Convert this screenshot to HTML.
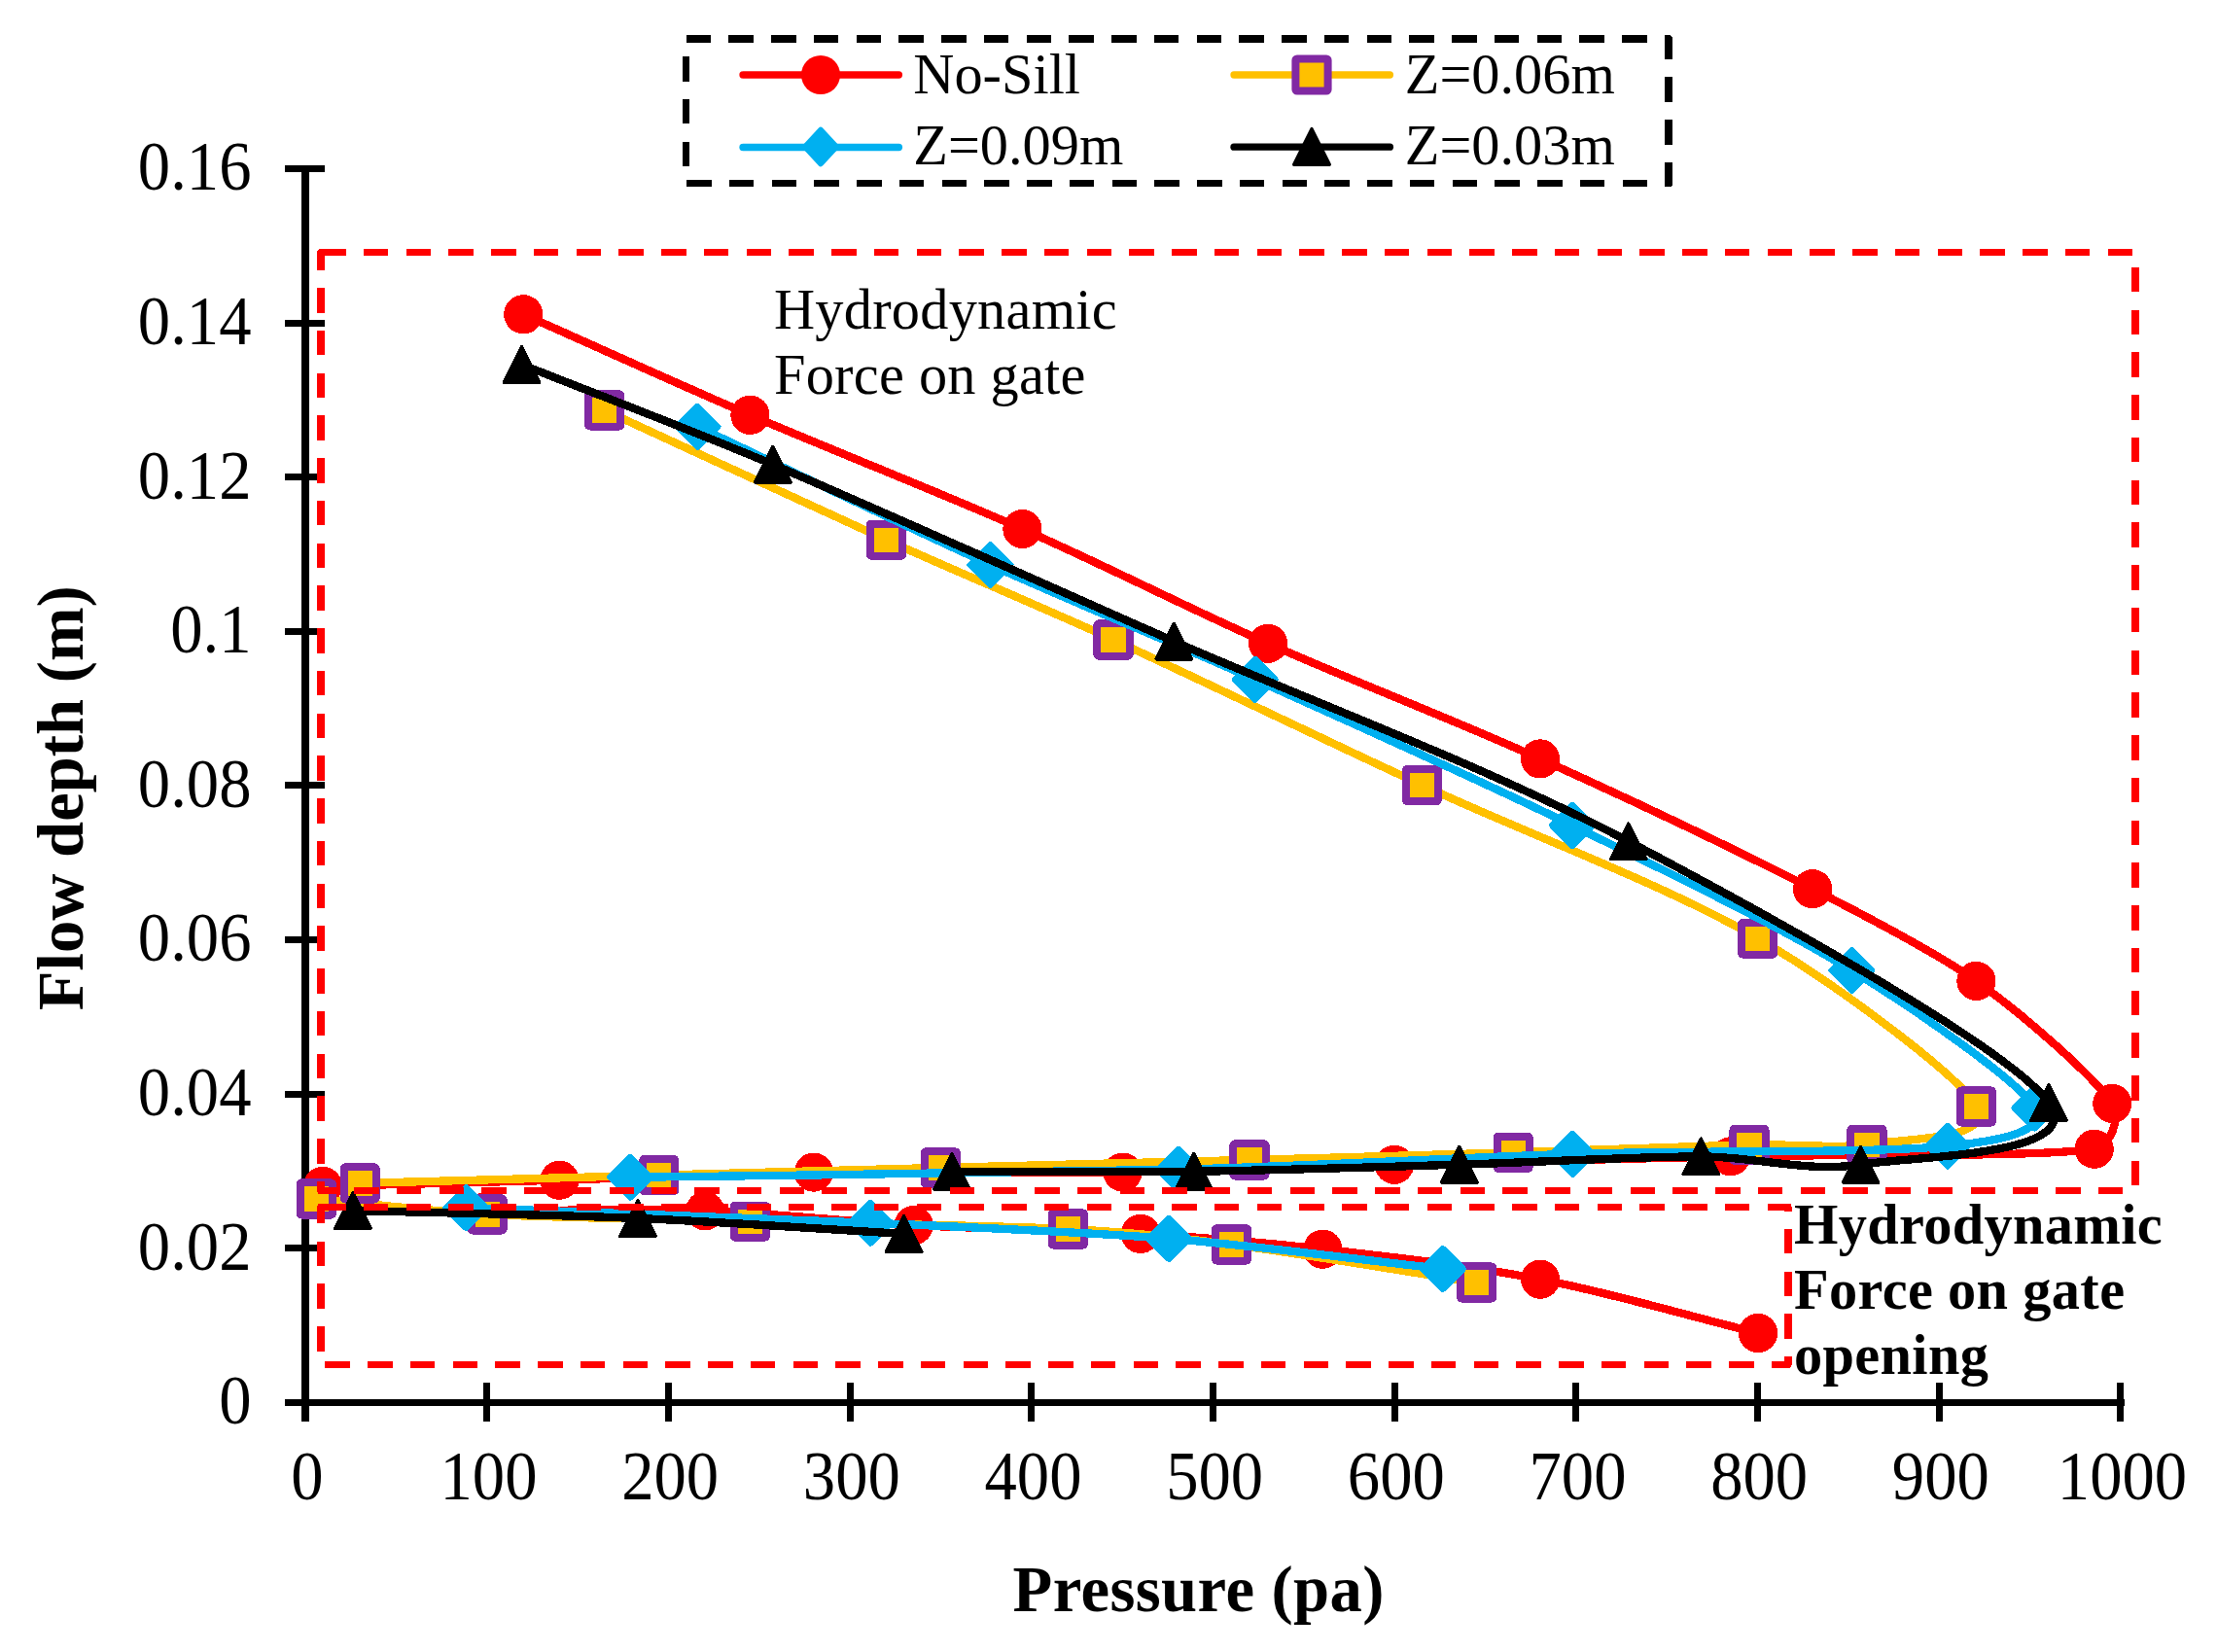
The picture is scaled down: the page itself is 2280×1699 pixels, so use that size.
<!DOCTYPE html>
<html><head><meta charset="utf-8"><title>Pressure vs flow depth</title>
<style>html,body{margin:0;padding:0;background:#fff}svg{display:block}text{font-family:"Liberation Serif",serif;fill:#000}</style></head><body>
<svg width="2280" height="1699" viewBox="0 0 2280 1699">
<rect width="2280" height="1699" fill="#fff"/>
<g fill="#000" shape-rendering="crispEdges">
<rect x="310" y="170" width="8" height="1292"/>
<rect x="293" y="1439" width="1891.5" height="7"/>
<rect x="497" y="1422" width="7" height="40"/>
<rect x="684" y="1422" width="7" height="40"/>
<rect x="871" y="1422" width="7" height="40"/>
<rect x="1057" y="1422" width="7" height="40"/>
<rect x="1244" y="1422" width="7" height="40"/>
<rect x="1431" y="1422" width="7" height="40"/>
<rect x="1617" y="1422" width="7" height="40"/>
<rect x="1804" y="1422" width="7" height="40"/>
<rect x="1991" y="1422" width="7" height="40"/>
<rect x="2177" y="1422" width="7" height="40"/>
<rect x="293" y="1280" width="41" height="7"/>
<rect x="293" y="1122" width="41" height="7"/>
<rect x="293" y="963" width="41" height="7"/>
<rect x="293" y="804" width="41" height="7"/>
<rect x="293" y="646" width="41" height="7"/>
<rect x="293" y="487" width="41" height="7"/>
<rect x="293" y="329" width="41" height="7"/>
<rect x="293" y="170" width="41" height="7"/>
</g>
<g font-size="66.67">
<text transform="translate(315.8,1542) scale(1,1.065)" text-anchor="middle">0</text>
<text transform="translate(502.47,1542) scale(1,1.065)" text-anchor="middle">100</text>
<text transform="translate(689.14,1542) scale(1,1.065)" text-anchor="middle">200</text>
<text transform="translate(875.81,1542) scale(1,1.065)" text-anchor="middle">300</text>
<text transform="translate(1062.48,1542) scale(1,1.065)" text-anchor="middle">400</text>
<text transform="translate(1249.15,1542) scale(1,1.065)" text-anchor="middle">500</text>
<text transform="translate(1435.82,1542) scale(1,1.065)" text-anchor="middle">600</text>
<text transform="translate(1622.49,1542) scale(1,1.065)" text-anchor="middle">700</text>
<text transform="translate(1809.16,1542) scale(1,1.065)" text-anchor="middle">800</text>
<text transform="translate(1995.83,1542) scale(1,1.065)" text-anchor="middle">900</text>
<text transform="translate(2182.5,1542) scale(1,1.065)" text-anchor="middle">1000</text>
<text transform="translate(258.5,1464.3) scale(1,1.065)" text-anchor="end">0</text>
<text transform="translate(258.5,1305.67) scale(1,1.065)" text-anchor="end">0.02</text>
<text transform="translate(258.5,1147.05) scale(1,1.065)" text-anchor="end">0.04</text>
<text transform="translate(258.5,988.42) scale(1,1.065)" text-anchor="end">0.06</text>
<text transform="translate(258.5,829.8) scale(1,1.065)" text-anchor="end">0.08</text>
<text transform="translate(258.5,671.17) scale(1,1.065)" text-anchor="end">0.1</text>
<text transform="translate(258.5,512.55) scale(1,1.065)" text-anchor="end">0.12</text>
<text transform="translate(258.5,353.93) scale(1,1.065)" text-anchor="end">0.14</text>
<text transform="translate(258.5,195.3) scale(1,1.065)" text-anchor="end">0.16</text>
</g>
<text x="1232.7" y="1657" font-size="66.67" font-weight="bold" text-anchor="middle" letter-spacing="0.4">Pressure (pa)</text>
<text transform="translate(85,820.8) rotate(-90)" font-size="66.67" font-weight="bold" text-anchor="middle">Flow depth (m)</text>
<g id="s-red" shape-rendering="crispEdges">
<path d="M538.3,323.3 C609.26,354.81 693.3,393.21 771.4,426.8 C856.92,463.58 962.62,504.83 1051.4,544 C1136.43,581.51 1219.16,624.09 1304.1,661.8 C1391.92,700.79 1491.55,738.78 1583.9,780.4 C1677.23,822.47 1789.35,876.12 1864.1,914.2 C1921.46,943.42 1992.99,980.68 2032.4,1008.9 C2083.43,1045.44 2152.22,1106.29 2172.3,1134.9 C2181.94,1148.64 2170.33,1179.4 2153.7,1181.7 C2088.28,1190.77 1899.75,1186.62 1779.8,1189.3 C1664.53,1191.88 1534.14,1195.19 1434,1197.8 C1340.86,1200.23 1247.76,1204.38 1154.6,1205.6 C1055.08,1206.9 933.43,1204.25 836.9,1205.6 C749.7,1206.82 651.43,1211.53 575.4,1213.7 C494.24,1216.01 410.17,1217.97 331.9,1220" fill="none" stroke="#FF0000" stroke-width="8.33" stroke-linecap="round" stroke-linejoin="round"/>
<path d="M501.5,1245.3 C576,1245.3 651.97,1242.83 725,1245.3 C796.7,1247.72 868.06,1256.33 939.7,1260.1 C1014.37,1264.03 1102.9,1264.8 1173,1268.9 C1235.55,1272.56 1298.05,1277.61 1360.3,1284.7 C1428.21,1292.43 1510.15,1301.45 1584.1,1315.7 C1658.72,1330.08 1733.37,1352.57 1808,1371" fill="none" stroke="#FF0000" stroke-width="8.33" stroke-linecap="round" stroke-linejoin="round"/>
<circle cx="538.3" cy="323.3" r="20.1" fill="#FF0000"/>
<circle cx="771.4" cy="426.8" r="20.1" fill="#FF0000"/>
<circle cx="1051.4" cy="544" r="20.1" fill="#FF0000"/>
<circle cx="1304.1" cy="661.8" r="20.1" fill="#FF0000"/>
<circle cx="1583.9" cy="780.4" r="20.1" fill="#FF0000"/>
<circle cx="1864.1" cy="914.2" r="20.1" fill="#FF0000"/>
<circle cx="2032.4" cy="1008.9" r="20.1" fill="#FF0000"/>
<circle cx="2172.3" cy="1134.9" r="20.1" fill="#FF0000"/>
<circle cx="2153.7" cy="1181.7" r="20.1" fill="#FF0000"/>
<circle cx="1779.8" cy="1189.3" r="20.1" fill="#FF0000"/>
<circle cx="1434" cy="1197.8" r="20.1" fill="#FF0000"/>
<circle cx="1154.6" cy="1205.6" r="20.1" fill="#FF0000"/>
<circle cx="836.9" cy="1205.6" r="20.1" fill="#FF0000"/>
<circle cx="575.4" cy="1213.7" r="20.1" fill="#FF0000"/>
<circle cx="331.9" cy="1220" r="20.1" fill="#FF0000"/>
<circle cx="501.5" cy="1245.3" r="20.1" fill="#FF0000"/>
<circle cx="725" cy="1245.3" r="20.1" fill="#FF0000"/>
<circle cx="939.7" cy="1260.1" r="20.1" fill="#FF0000"/>
<circle cx="1173" cy="1268.9" r="20.1" fill="#FF0000"/>
<circle cx="1360.3" cy="1284.7" r="20.1" fill="#FF0000"/>
<circle cx="1584.1" cy="1315.7" r="20.1" fill="#FF0000"/>
<circle cx="1808" cy="1371" r="20.1" fill="#FF0000"/>
</g>
<g id="s-yel" shape-rendering="crispEdges">
<path d="M621.7,421.9 C718.27,466.33 824.18,515.85 911.4,555.2 C988.95,590.19 1067.65,622.59 1145,658 C1233.16,698.36 1356.23,758.25 1462.3,807.4 C1572.77,858.58 1712.77,910 1807.8,965.1 C1889.56,1012.5 2016.43,1107.59 2032.5,1138 C2051.07,1173.14 1958.58,1170.69 1919.9,1177.2 C1894.04,1181.55 1839.29,1176.4 1799,1177.3 C1741.69,1178.58 1637.07,1182.84 1556.1,1185.3 C1477.21,1187.69 1375.37,1190.51 1285,1192.9 C1186.87,1195.5 1068.5,1198.28 967.3,1200.9 C870.8,1203.4 774.3,1206.01 677.8,1208.6 C578.27,1211.27 472.67,1214.13 370.1,1216.9" fill="none" stroke="#FFC000" stroke-width="8.33" stroke-linecap="round" stroke-linejoin="round"/>
<path d="M325.2,1233 C383.83,1238.3 442.31,1245.86 501.1,1248.9 C568.41,1252.38 681.3,1253.82 771.4,1256.1 C870.95,1258.62 1015.88,1260.03 1098.4,1264 C1154.62,1266.7 1210.69,1272.6 1266.5,1279.9 C1336.55,1289.07 1434.63,1305.97 1518.7,1319" fill="none" stroke="#FFC000" stroke-width="8.33" stroke-linecap="round" stroke-linejoin="round"/>
<rect x="605.1" y="405.3" width="33.2" height="33.2" rx="1.5" fill="#FFC000" stroke="#8129A3" stroke-width="8" stroke-linejoin="round"/>
<rect x="894.8" y="538.6" width="33.2" height="33.2" rx="1.5" fill="#FFC000" stroke="#8129A3" stroke-width="8" stroke-linejoin="round"/>
<rect x="1128.4" y="641.4" width="33.2" height="33.2" rx="1.5" fill="#FFC000" stroke="#8129A3" stroke-width="8" stroke-linejoin="round"/>
<rect x="1445.7" y="790.8" width="33.2" height="33.2" rx="1.5" fill="#FFC000" stroke="#8129A3" stroke-width="8" stroke-linejoin="round"/>
<rect x="1791.2" y="948.5" width="33.2" height="33.2" rx="1.5" fill="#FFC000" stroke="#8129A3" stroke-width="8" stroke-linejoin="round"/>
<rect x="2015.9" y="1121.4" width="33.2" height="33.2" rx="1.5" fill="#FFC000" stroke="#8129A3" stroke-width="8" stroke-linejoin="round"/>
<rect x="1903.3" y="1160.6" width="33.2" height="33.2" rx="1.5" fill="#FFC000" stroke="#8129A3" stroke-width="8" stroke-linejoin="round"/>
<rect x="1782.4" y="1160.7" width="33.2" height="33.2" rx="1.5" fill="#FFC000" stroke="#8129A3" stroke-width="8" stroke-linejoin="round"/>
<rect x="1539.5" y="1168.7" width="33.2" height="33.2" rx="1.5" fill="#FFC000" stroke="#8129A3" stroke-width="8" stroke-linejoin="round"/>
<rect x="1268.4" y="1176.3" width="33.2" height="33.2" rx="1.5" fill="#FFC000" stroke="#8129A3" stroke-width="8" stroke-linejoin="round"/>
<rect x="950.7" y="1184.3" width="33.2" height="33.2" rx="1.5" fill="#FFC000" stroke="#8129A3" stroke-width="8" stroke-linejoin="round"/>
<rect x="661.2" y="1192" width="33.2" height="33.2" rx="1.5" fill="#FFC000" stroke="#8129A3" stroke-width="8" stroke-linejoin="round"/>
<rect x="353.5" y="1200.3" width="33.2" height="33.2" rx="1.5" fill="#FFC000" stroke="#8129A3" stroke-width="8" stroke-linejoin="round"/>
<rect x="308.6" y="1216.4" width="33.2" height="33.2" rx="1.5" fill="#FFC000" stroke="#8129A3" stroke-width="8" stroke-linejoin="round"/>
<rect x="484.5" y="1232.3" width="33.2" height="33.2" rx="1.5" fill="#FFC000" stroke="#8129A3" stroke-width="8" stroke-linejoin="round"/>
<rect x="754.8" y="1239.5" width="33.2" height="33.2" rx="1.5" fill="#FFC000" stroke="#8129A3" stroke-width="8" stroke-linejoin="round"/>
<rect x="1081.8" y="1247.4" width="33.2" height="33.2" rx="1.5" fill="#FFC000" stroke="#8129A3" stroke-width="8" stroke-linejoin="round"/>
<rect x="1249.9" y="1263.3" width="33.2" height="33.2" rx="1.5" fill="#FFC000" stroke="#8129A3" stroke-width="8" stroke-linejoin="round"/>
<rect x="1502.1" y="1302.4" width="33.2" height="33.2" rx="1.5" fill="#FFC000" stroke="#8129A3" stroke-width="8" stroke-linejoin="round"/>
</g>
<g id="s-blu" shape-rendering="crispEdges">
<path d="M717.4,438.8 C817.77,486.13 922.95,537.47 1018.5,580.8 C1108.56,621.64 1200.45,658.36 1290.7,698.8 C1390.47,743.5 1514.82,799.12 1617.1,849 C1714.08,896.3 1829.26,952.21 1904.4,998.1 C1971.35,1038.99 2078.72,1113.97 2092.6,1139.4 C2108.23,1168.03 2035.45,1175.46 2003,1178.7 C1925.82,1186.4 1745.9,1182.9 1617.4,1186.8 C1506.99,1190.15 1347.06,1199.35 1211.8,1202.7 C1050.25,1206.7 836,1208.1 648.1,1210.8" fill="none" stroke="#00B0F0" stroke-width="8.33" stroke-linecap="round" stroke-linejoin="round"/>
<path d="M479.4,1242.2 C618,1247.37 774.75,1252.42 895.2,1257.7 C997.54,1262.19 1118.75,1267.2 1202.1,1273.9 C1296.27,1281.47 1393.66,1295.05 1483.8,1305" fill="none" stroke="#00B0F0" stroke-width="8.33" stroke-linecap="round" stroke-linejoin="round"/>
<polygon points="717.4,417.8 738.4,438.8 717.4,459.8 696.4,438.8" fill="#00B0F0" stroke="#00B0F0" stroke-width="6" stroke-linejoin="round"/>
<polygon points="1018.5,559.8 1039.5,580.8 1018.5,601.8 997.5,580.8" fill="#00B0F0" stroke="#00B0F0" stroke-width="6" stroke-linejoin="round"/>
<polygon points="1290.7,677.8 1311.7,698.8 1290.7,719.8 1269.7,698.8" fill="#00B0F0" stroke="#00B0F0" stroke-width="6" stroke-linejoin="round"/>
<polygon points="1617.1,828 1638.1,849 1617.1,870 1596.1,849" fill="#00B0F0" stroke="#00B0F0" stroke-width="6" stroke-linejoin="round"/>
<polygon points="1904.4,977.1 1925.4,998.1 1904.4,1019.1 1883.4,998.1" fill="#00B0F0" stroke="#00B0F0" stroke-width="6" stroke-linejoin="round"/>
<polygon points="2092.6,1118.4 2113.6,1139.4 2092.6,1160.4 2071.6,1139.4" fill="#00B0F0" stroke="#00B0F0" stroke-width="6" stroke-linejoin="round"/>
<polygon points="2003,1157.7 2024,1178.7 2003,1199.7 1982,1178.7" fill="#00B0F0" stroke="#00B0F0" stroke-width="6" stroke-linejoin="round"/>
<polygon points="1617.4,1165.8 1638.4,1186.8 1617.4,1207.8 1596.4,1186.8" fill="#00B0F0" stroke="#00B0F0" stroke-width="6" stroke-linejoin="round"/>
<polygon points="1211.8,1181.7 1232.8,1202.7 1211.8,1223.7 1190.8,1202.7" fill="#00B0F0" stroke="#00B0F0" stroke-width="6" stroke-linejoin="round"/>
<polygon points="648.1,1189.8 669.1,1210.8 648.1,1231.8 627.1,1210.8" fill="#00B0F0" stroke="#00B0F0" stroke-width="6" stroke-linejoin="round"/>
<polygon points="479.4,1221.2 500.4,1242.2 479.4,1263.2 458.4,1242.2" fill="#00B0F0" stroke="#00B0F0" stroke-width="6" stroke-linejoin="round"/>
<polygon points="895.2,1236.7 916.2,1257.7 895.2,1278.7 874.2,1257.7" fill="#00B0F0" stroke="#00B0F0" stroke-width="6" stroke-linejoin="round"/>
<polygon points="1202.1,1252.9 1223.1,1273.9 1202.1,1294.9 1181.1,1273.9" fill="#00B0F0" stroke="#00B0F0" stroke-width="6" stroke-linejoin="round"/>
<polygon points="1483.8,1284 1504.8,1305 1483.8,1326 1462.8,1305" fill="#00B0F0" stroke="#00B0F0" stroke-width="6" stroke-linejoin="round"/>
</g>
<g id="s-blk" shape-rendering="crispEdges">
<path d="M536.5,374.9 C602.14,401.03 709.42,441.51 794.7,477.7 C899.59,522.21 1069.82,599 1207.4,659.6 C1354.07,724.2 1524.8,786.25 1674.7,865.3 C1824.6,944.35 2067,1078.5 2106.8,1133.9 C2146.39,1189.01 1972.75,1188.5 1913.5,1197.7 C1859.38,1206.1 1804.17,1189.4 1749.4,1189.4 C1683.84,1189.4 1583.68,1195.25 1500.8,1197.7 C1413.85,1200.27 1314.65,1203.62 1227.7,1204.8 C1144.84,1205.93 1061.97,1204.8 979.1,1204.8" fill="none" stroke="#000000" stroke-width="8.33" stroke-linecap="round" stroke-linejoin="round"/>
<path d="M362.9,1245 C460.57,1247.67 561.47,1249.02 655.9,1253 C747.17,1256.85 838.3,1263.6 929.5,1268.9" fill="none" stroke="#000000" stroke-width="8.33" stroke-linecap="round" stroke-linejoin="round"/>
<polygon points="536.5,356.5 554.9,393.3 518.1,393.3" fill="#000000" stroke="#000000" stroke-width="3.2" stroke-linejoin="round"/>
<polygon points="794.7,459.3 813.1,496.1 776.3,496.1" fill="#000000" stroke="#000000" stroke-width="3.2" stroke-linejoin="round"/>
<polygon points="1207.4,641.2 1225.8,678 1189,678" fill="#000000" stroke="#000000" stroke-width="3.2" stroke-linejoin="round"/>
<polygon points="1674.7,846.9 1693.1,883.7 1656.3,883.7" fill="#000000" stroke="#000000" stroke-width="3.2" stroke-linejoin="round"/>
<polygon points="2106.8,1115.5 2125.2,1152.3 2088.4,1152.3" fill="#000000" stroke="#000000" stroke-width="3.2" stroke-linejoin="round"/>
<polygon points="1913.5,1179.3 1931.9,1216.1 1895.1,1216.1" fill="#000000" stroke="#000000" stroke-width="3.2" stroke-linejoin="round"/>
<polygon points="1749.4,1171 1767.8,1207.8 1731,1207.8" fill="#000000" stroke="#000000" stroke-width="3.2" stroke-linejoin="round"/>
<polygon points="1500.8,1179.3 1519.2,1216.1 1482.4,1216.1" fill="#000000" stroke="#000000" stroke-width="3.2" stroke-linejoin="round"/>
<polygon points="1227.7,1186.4 1246.1,1223.2 1209.3,1223.2" fill="#000000" stroke="#000000" stroke-width="3.2" stroke-linejoin="round"/>
<polygon points="979.1,1186.4 997.5,1223.2 960.7,1223.2" fill="#000000" stroke="#000000" stroke-width="3.2" stroke-linejoin="round"/>
<polygon points="362.9,1226.6 381.3,1263.4 344.5,1263.4" fill="#000000" stroke="#000000" stroke-width="3.2" stroke-linejoin="round"/>
<polygon points="655.9,1234.6 674.3,1271.4 637.5,1271.4" fill="#000000" stroke="#000000" stroke-width="3.2" stroke-linejoin="round"/>
<polygon points="929.5,1250.5 947.9,1287.3 911.1,1287.3" fill="#000000" stroke="#000000" stroke-width="3.2" stroke-linejoin="round"/>
</g>
<g font-size="58.33">
<g letter-spacing="0.25"><text x="796" y="338.1">Hydrodynamic</text><text x="796" y="404.9">Force on gate</text></g>
<g font-weight="bold" letter-spacing="0.35"><text x="1845" y="1279">Hydrodynamic</text><text x="1845" y="1346">Force on gate</text><text x="1845" y="1413">opening</text></g>
</g>
<g fill="none" stroke="#FF0000" stroke-width="7.5" stroke-dasharray="25.5 18.25" stroke-linejoin="round" shape-rendering="crispEdges">
<path d="M330,259.5 H2196 V1224.5 H330 Z"/>
<path d="M330,1241.3 H1838.8 V1403.5 H330 Z"/>
</g>
<path d="M705.5,40 H1716.2 V188.6 H705.5 Z" fill="none" stroke="#000" stroke-width="7.5" stroke-dasharray="25.5 18.25" stroke-linejoin="round" shape-rendering="crispEdges"/>
<line x1="764" y1="77" x2="924.4" y2="77" stroke="#FF0000" stroke-width="7.3" stroke-linecap="round"/>
<circle cx="844" cy="77" r="20" fill="#FF0000"/>
<line x1="764" y1="151.5" x2="924.4" y2="151.5" stroke="#00B0F0" stroke-width="7.3" stroke-linecap="round"/>
<polygon points="844,133.8 860,151 844,168.2 828,151" fill="#00B0F0" stroke="#00B0F0" stroke-width="6" stroke-linejoin="round"/>
<line x1="1269" y1="77" x2="1429.4" y2="77" stroke="#FFC000" stroke-width="7.3" stroke-linecap="round"/>
<rect x="1332.4" y="60.4" width="33.2" height="33.2" rx="1.5" fill="#FFC000" stroke="#8129A3" stroke-width="8" stroke-linejoin="round"/>
<line x1="1269" y1="151.2" x2="1429.4" y2="151.2" stroke="#000000" stroke-width="7.3" stroke-linecap="round"/>
<polygon points="1349,132.5 1367.4,169.3 1330.6,169.3" fill="#000000" stroke="#000000" stroke-width="3.2" stroke-linejoin="round"/>
<g font-size="58.33">
<text x="939.3" y="95.5">No-Sill</text><text x="939.3" y="169">Z=0.09m</text><text x="1444.8" y="95.5">Z=0.06m</text><text x="1444.8" y="169">Z=0.03m</text>
</g>
</svg>
</body></html>
